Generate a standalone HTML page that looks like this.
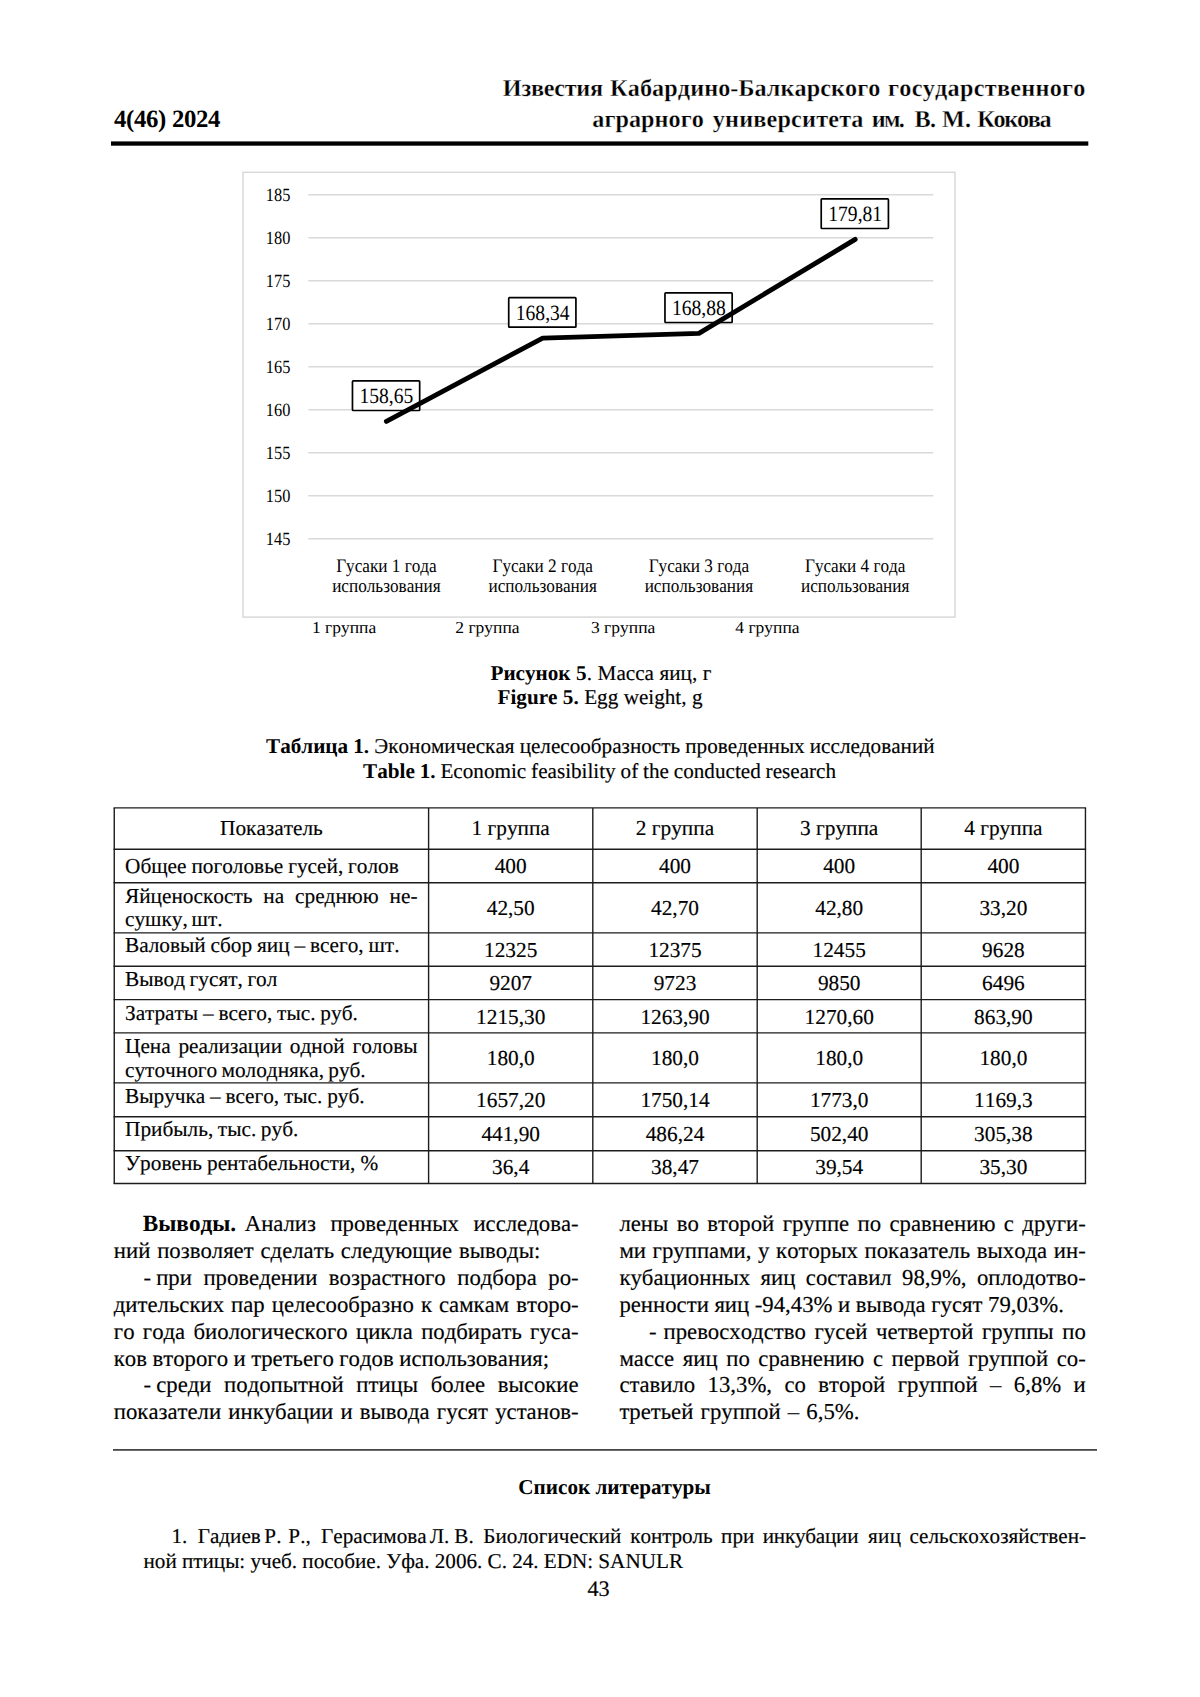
<!DOCTYPE html>
<html lang="ru"><head><meta charset="utf-8"><title>Известия КБГАУ 4(46) 2024 — стр. 43</title>
<style>
html,body{margin:0;padding:0;background:#fff}
body{width:1200px;height:1697px;position:relative;overflow:hidden;font-family:"Liberation Serif",serif;color:#000;font-kerning:none;font-variant-ligatures:none;text-rendering:geometricPrecision}
.t{position:absolute;white-space:pre;line-height:normal;margin:0;padding:0;-webkit-text-stroke:0.16px #000}
.c{transform:translateX(-50%)}
b{font-weight:bold;-webkit-text-stroke:0}
.d{display:inline-block;width:12.8px}
.d2{display:inline-block;width:14.4px}
svg{position:absolute;left:0;top:0}
svg text{font-family:"Liberation Serif",serif;fill:#000;font-kerning:none}
</style></head><body>
<svg width="1200" height="1697" viewBox="0 0 1200 1697">
<rect x="111" y="141.4" width="977.3" height="4.3" fill="#000"/>
<rect x="243" y="172.3" width="712" height="444.8" fill="none" stroke="#d9d9d9" stroke-width="1.5"/>
<g stroke="#d9d9d9" stroke-width="1.4">
<line x1="308.3" y1="194.8" x2="933.3" y2="194.8"/>
<line x1="308.3" y1="237.8" x2="933.3" y2="237.8"/>
<line x1="308.3" y1="280.8" x2="933.3" y2="280.8"/>
<line x1="308.3" y1="323.8" x2="933.3" y2="323.8"/>
<line x1="308.3" y1="366.8" x2="933.3" y2="366.8"/>
<line x1="308.3" y1="409.8" x2="933.3" y2="409.8"/>
<line x1="308.3" y1="452.8" x2="933.3" y2="452.8"/>
<line x1="308.3" y1="495.8" x2="933.3" y2="495.8"/>
<line x1="308.3" y1="538.8" x2="933.3" y2="538.8"/>
</g>
<text transform="translate(290.4,201.0) scale(0.875,1)" font-size="18.7" text-anchor="end">185</text>
<text transform="translate(290.4,244.0) scale(0.875,1)" font-size="18.7" text-anchor="end">180</text>
<text transform="translate(290.4,287.0) scale(0.875,1)" font-size="18.7" text-anchor="end">175</text>
<text transform="translate(290.4,330.0) scale(0.875,1)" font-size="18.7" text-anchor="end">170</text>
<text transform="translate(290.4,373.0) scale(0.875,1)" font-size="18.7" text-anchor="end">165</text>
<text transform="translate(290.4,416.0) scale(0.875,1)" font-size="18.7" text-anchor="end">160</text>
<text transform="translate(290.4,459.0) scale(0.875,1)" font-size="18.7" text-anchor="end">155</text>
<text transform="translate(290.4,502.0) scale(0.875,1)" font-size="18.7" text-anchor="end">150</text>
<text transform="translate(290.4,545.0) scale(0.875,1)" font-size="18.7" text-anchor="end">145</text>
<rect x="352.47" y="380.9" width="67.2" height="29.6" rx="0.8" fill="#fff" stroke="#000" stroke-width="1.7"/>
<text transform="translate(386.4,403.1) scale(0.897,1)" font-size="21.8" text-anchor="middle">158,65</text>
<rect x="508.72" y="297.6" width="67.2" height="29.6" rx="0.8" fill="#fff" stroke="#000" stroke-width="1.7"/>
<text transform="translate(542.7,319.8) scale(0.897,1)" font-size="21.8" text-anchor="middle">168,34</text>
<rect x="664.97" y="292.9" width="67.2" height="29.6" rx="0.8" fill="#fff" stroke="#000" stroke-width="1.7"/>
<text transform="translate(698.9,315.1) scale(0.897,1)" font-size="21.8" text-anchor="middle">168,88</text>
<rect x="821.22" y="198.9" width="67.2" height="29.6" rx="0.8" fill="#fff" stroke="#000" stroke-width="1.7"/>
<text transform="translate(855.2,221.1) scale(0.897,1)" font-size="21.8" text-anchor="middle">179,81</text>
<polyline points="386.4,421.4 542.7,338.1 698.9,333.4 855.2,239.4" fill="none" stroke="#000" stroke-width="4.9" stroke-linecap="round" stroke-linejoin="round"/>
<text transform="translate(386.4,571.6) scale(0.9,1)" font-size="19.1" text-anchor="middle">Гусаки 1 года</text>
<text transform="translate(386.4,591.5) scale(0.9,1)" font-size="19.1" text-anchor="middle">использования</text>
<text transform="translate(542.7,571.6) scale(0.9,1)" font-size="19.1" text-anchor="middle">Гусаки 2 года</text>
<text transform="translate(542.7,591.5) scale(0.9,1)" font-size="19.1" text-anchor="middle">использования</text>
<text transform="translate(698.9,571.6) scale(0.9,1)" font-size="19.1" text-anchor="middle">Гусаки 3 года</text>
<text transform="translate(698.9,591.5) scale(0.9,1)" font-size="19.1" text-anchor="middle">использования</text>
<text transform="translate(855.2,571.6) scale(0.9,1)" font-size="19.1" text-anchor="middle">Гусаки 4 года</text>
<text transform="translate(855.2,591.5) scale(0.9,1)" font-size="19.1" text-anchor="middle">использования</text>
<text transform="translate(311.9,633.1) scale(1.042,1)" font-size="16.8" text-anchor="start">1 группа</text>
<text transform="translate(455.3,633.1) scale(1.042,1)" font-size="16.8" text-anchor="start">2 группа</text>
<text transform="translate(591.0,633.1) scale(1.042,1)" font-size="16.8" text-anchor="start">3 группа</text>
<text transform="translate(735.3,633.1) scale(1.042,1)" font-size="16.8" text-anchor="start">4 группа</text>
<g stroke="#1c1c1c" stroke-width="1.4">
<line x1="113.55" y1="807.9" x2="1086.15" y2="807.9"/>
<line x1="113.55" y1="849.2" x2="1086.15" y2="849.2"/>
<line x1="113.55" y1="882.7" x2="1086.15" y2="882.7"/>
<line x1="113.55" y1="932.9" x2="1086.15" y2="932.9"/>
<line x1="113.55" y1="966.2" x2="1086.15" y2="966.2"/>
<line x1="113.55" y1="999.6" x2="1086.15" y2="999.6"/>
<line x1="113.55" y1="1032.9" x2="1086.15" y2="1032.9"/>
<line x1="113.55" y1="1082.9" x2="1086.15" y2="1082.9"/>
<line x1="113.55" y1="1116.7" x2="1086.15" y2="1116.7"/>
<line x1="113.55" y1="1150.7" x2="1086.15" y2="1150.7"/>
<line x1="113.55" y1="1183.5" x2="1086.15" y2="1183.5"/>
<line x1="114.25" y1="807.9" x2="114.25" y2="1183.5"/>
<line x1="428.6" y1="807.9" x2="428.6" y2="1183.5"/>
<line x1="592.8" y1="807.9" x2="592.8" y2="1183.5"/>
<line x1="757.2" y1="807.9" x2="757.2" y2="1183.5"/>
<line x1="921.2" y1="807.9" x2="921.2" y2="1183.5"/>
<line x1="1085.45" y1="807.9" x2="1085.45" y2="1183.5"/>
</g>
<rect x="113" y="1449.2" width="984" height="1.45" fill="#1c1c1c"/>
</svg>
<div class="t" id="t0" style="left:114.00px;top:106.21px;font-size:24.8px;font-weight:bold;-webkit-text-stroke:0;letter-spacing:-0.332px;">4(46) 2024</div>
<div class="t" id="t1" style="left:502.84px;top:74.60px;font-size:24.19px;font-weight:bold;-webkit-text-stroke:0.3px #fff;"><span style="letter-spacing:-0.240px">Известия</span><span style="word-spacing:1.14px"> </span><span style="letter-spacing:0.090px">Кабардино-Балкарского</span><span style="word-spacing:1.55px"> </span><span style="letter-spacing:0.276px">государственного</span></div>
<div class="t" id="t2" style="left:592.22px;top:106.30px;font-size:24.19px;font-weight:bold;-webkit-text-stroke:0.3px #fff;"><span style="letter-spacing:0.063px">аграрного</span><span style="word-spacing:2.73px"> </span><span style="letter-spacing:0.192px">университета</span><span style="word-spacing:2.26px"> </span><span style="letter-spacing:-1.756px">им.</span><span style="word-spacing:5.49px"> </span><span style="letter-spacing:-0.717px">В.</span><span style="word-spacing:0.69px"> </span><span style="letter-spacing:0.097px">М.</span><span style="word-spacing:-0.12px"> </span><span style="letter-spacing:-1.259px">Кокова</span></div>
<div class="t c" id="t3" style="left:601.00px;top:661.01px;font-size:21.17px;word-spacing:0.305px;"><b>Рисунок 5</b>. Масса яиц, г</div>
<div class="t c" id="t4" style="left:600.00px;top:685.01px;font-size:21.17px;word-spacing:0.125px;"><b>Figure 5.</b> Egg weight, g</div>
<div class="t c" id="t5" style="left:600.30px;top:734.30px;font-size:21.17px;word-spacing:-0.169px;"><b>Таблица 1.</b> Экономическая целесообразность проведенных исследований</div>
<div class="t c" id="t6" style="left:599.60px;top:759.21px;font-size:21.17px;word-spacing:-0.411px;"><b>Table 1.</b> Economic feasibility of the conducted research</div>
<div class="t c" id="t7" style="left:271.43px;top:816.20px;font-size:21.3px;">Показатель</div>
<div class="t c" id="t8" style="left:510.70px;top:816.20px;font-size:21.3px;">1 группа</div>
<div class="t c" id="t9" style="left:675.00px;top:816.20px;font-size:21.3px;">2 группа</div>
<div class="t c" id="t10" style="left:839.20px;top:816.20px;font-size:21.3px;">3 группа</div>
<div class="t c" id="t11" style="left:1003.40px;top:816.20px;font-size:21.3px;">4 группа</div>
<div class="t" id="t12" style="left:125.00px;top:853.92px;font-size:21.3px;word-spacing:-0.452px;">Общее поголовье гусей, голов</div>
<div class="t" id="t13" style="left:125.00px;top:884.11px;font-size:21.3px;word-spacing:5.568px;">Яйценоскость на среднюю не-</div>
<div class="t" id="t14" style="left:125.00px;top:907.31px;font-size:21.3px;word-spacing:-1.588px;">сушку, шт.</div>
<div class="t" id="t15" style="left:125.00px;top:933.31px;font-size:21.3px;word-spacing:-0.469px;">Валовый сбор яиц – всего, шт.</div>
<div class="t" id="t16" style="left:125.00px;top:967.11px;font-size:21.3px;word-spacing:-0.792px;">Вывод гусят, гол</div>
<div class="t" id="t17" style="left:125.00px;top:1000.81px;font-size:21.3px;word-spacing:-0.452px;">Затраты – всего, тыс. руб.</div>
<div class="t" id="t18" style="left:125.00px;top:1034.11px;font-size:21.3px;word-spacing:2.417px;">Цена реализации одной головы</div>
<div class="t" id="t19" style="left:125.00px;top:1057.70px;font-size:21.3px;word-spacing:-1.080px;">суточного молодняка, руб.</div>
<div class="t" id="t20" style="left:125.00px;top:1083.70px;font-size:21.3px;word-spacing:-0.549px;">Выручка – всего, тыс. руб.</div>
<div class="t" id="t21" style="left:125.00px;top:1117.42px;font-size:21.3px;word-spacing:-0.717px;">Прибыль, тыс. руб.</div>
<div class="t" id="t22" style="left:125.00px;top:1151.20px;font-size:21.3px;word-spacing:-0.298px;">Уровень рентабельности, %</div>
<div class="t c" id="t23" style="left:510.70px;top:853.81px;font-size:21.3px;">400</div>
<div class="t c" id="t24" style="left:675.00px;top:853.81px;font-size:21.3px;">400</div>
<div class="t c" id="t25" style="left:839.20px;top:853.81px;font-size:21.3px;">400</div>
<div class="t c" id="t26" style="left:1003.40px;top:853.81px;font-size:21.3px;">400</div>
<div class="t c" id="t27" style="left:510.70px;top:896.20px;font-size:21.3px;">42,50</div>
<div class="t c" id="t28" style="left:675.00px;top:896.20px;font-size:21.3px;">42,70</div>
<div class="t c" id="t29" style="left:839.20px;top:896.20px;font-size:21.3px;">42,80</div>
<div class="t c" id="t30" style="left:1003.40px;top:896.20px;font-size:21.3px;">33,20</div>
<div class="t c" id="t31" style="left:510.70px;top:937.61px;font-size:21.3px;">12325</div>
<div class="t c" id="t32" style="left:675.00px;top:937.61px;font-size:21.3px;">12375</div>
<div class="t c" id="t33" style="left:839.20px;top:937.61px;font-size:21.3px;">12455</div>
<div class="t c" id="t34" style="left:1003.40px;top:937.61px;font-size:21.3px;">9628</div>
<div class="t c" id="t35" style="left:510.70px;top:970.70px;font-size:21.3px;">9207</div>
<div class="t c" id="t36" style="left:675.00px;top:970.70px;font-size:21.3px;">9723</div>
<div class="t c" id="t37" style="left:839.20px;top:970.70px;font-size:21.3px;">9850</div>
<div class="t c" id="t38" style="left:1003.40px;top:970.70px;font-size:21.3px;">6496</div>
<div class="t c" id="t39" style="left:510.70px;top:1004.70px;font-size:21.3px;">1215,30</div>
<div class="t c" id="t40" style="left:675.00px;top:1004.70px;font-size:21.3px;">1263,90</div>
<div class="t c" id="t41" style="left:839.20px;top:1004.70px;font-size:21.3px;">1270,60</div>
<div class="t c" id="t42" style="left:1003.40px;top:1004.70px;font-size:21.3px;">863,90</div>
<div class="t c" id="t43" style="left:510.70px;top:1046.20px;font-size:21.3px;">180,0</div>
<div class="t c" id="t44" style="left:675.00px;top:1046.20px;font-size:21.3px;">180,0</div>
<div class="t c" id="t45" style="left:839.20px;top:1046.20px;font-size:21.3px;">180,0</div>
<div class="t c" id="t46" style="left:1003.40px;top:1046.20px;font-size:21.3px;">180,0</div>
<div class="t c" id="t47" style="left:510.70px;top:1088.20px;font-size:21.3px;">1657,20</div>
<div class="t c" id="t48" style="left:675.00px;top:1088.20px;font-size:21.3px;">1750,14</div>
<div class="t c" id="t49" style="left:839.20px;top:1088.20px;font-size:21.3px;">1773,0</div>
<div class="t c" id="t50" style="left:1003.40px;top:1088.20px;font-size:21.3px;">1169,3</div>
<div class="t c" id="t51" style="left:510.70px;top:1122.11px;font-size:21.3px;">441,90</div>
<div class="t c" id="t52" style="left:675.00px;top:1122.11px;font-size:21.3px;">486,24</div>
<div class="t c" id="t53" style="left:839.20px;top:1122.11px;font-size:21.3px;">502,40</div>
<div class="t c" id="t54" style="left:1003.40px;top:1122.11px;font-size:21.3px;">305,38</div>
<div class="t c" id="t55" style="left:510.70px;top:1155.11px;font-size:21.3px;">36,4</div>
<div class="t c" id="t56" style="left:675.00px;top:1155.11px;font-size:21.3px;">38,47</div>
<div class="t c" id="t57" style="left:839.20px;top:1155.11px;font-size:21.3px;">39,54</div>
<div class="t c" id="t58" style="left:1003.40px;top:1155.11px;font-size:21.3px;">35,30</div>
<div class="t" id="t59" style="left:142.80px;top:1211.10px;font-size:22.75px;word-spacing:8.822px;"><b style="word-spacing:2.8px;font-size:23.2px">Выводы.&nbsp;</b>Анализ проведенных исследова-</div>
<div class="t" id="t60" style="left:113.80px;top:1237.98px;font-size:22.75px;word-spacing:1.141px;">ний позволяет сделать следующие выводы:</div>
<div class="t" id="t61" style="left:143.40px;top:1264.88px;font-size:22.75px;word-spacing:5.804px;"><span class="d">-</span>при проведении возрастного подбора ро-</div>
<div class="t" id="t62" style="left:113.80px;top:1291.76px;font-size:22.75px;word-spacing:1.351px;">дительских пар целесообразно к самкам второ-</div>
<div class="t" id="t63" style="left:113.80px;top:1318.66px;font-size:22.75px;word-spacing:2.629px;">го года биологического цикла подбирать гуса-</div>
<div class="t" id="t64" style="left:113.80px;top:1345.54px;font-size:22.75px;word-spacing:-0.165px;">ков второго и третьего годов использования;</div>
<div class="t" id="t65" style="left:143.40px;top:1372.42px;font-size:22.75px;word-spacing:6.905px;"><span class="d">-</span>среди подопытной птицы более высокие</div>
<div class="t" id="t66" style="left:113.80px;top:1399.32px;font-size:22.75px;word-spacing:1.488px;">показатели инкубации и вывода гусят установ-</div>
<div class="t" id="t67" style="left:619.40px;top:1211.10px;font-size:22.75px;word-spacing:2.722px;">лены во второй группе по сравнению с други-</div>
<div class="t" id="t68" style="left:619.40px;top:1237.98px;font-size:22.75px;word-spacing:0.970px;">ми группами, у которых показатель выхода ин-</div>
<div class="t" id="t69" style="left:619.40px;top:1264.88px;font-size:22.75px;word-spacing:4.702px;">кубационных яиц составил 98,9%, оплодотво-</div>
<div class="t" id="t70" style="left:619.40px;top:1291.76px;font-size:22.75px;word-spacing:-0.099px;">ренности яиц -94,43% и вывода гусят 79,03%.</div>
<div class="t" id="t71" style="left:649.10px;top:1318.66px;font-size:22.75px;word-spacing:2.921px;"><span class="d2">-</span>превосходство гусей четвертой группы по</div>
<div class="t" id="t72" style="left:619.40px;top:1345.54px;font-size:22.75px;word-spacing:2.919px;">массе яиц по сравнению с первой группой со-</div>
<div class="t" id="t73" style="left:619.40px;top:1372.42px;font-size:22.75px;word-spacing:6.711px;">ставило 13,3%, со второй группой – 6,8% и</div>
<div class="t" id="t74" style="left:619.40px;top:1399.32px;font-size:22.75px;word-spacing:1.500px;">третьей группой – 6,5%.</div>
<div class="t c" id="t75" style="left:614.60px;top:1475.21px;font-size:21.17px;font-weight:bold;-webkit-text-stroke:0;word-spacing:-0.047px;">Список литературы</div>
<div class="t" id="t76" style="left:171.44px;top:1524.30px;font-size:21.17px;">1.<span style="word-spacing:5.08px"> </span>Гадиев<span style="word-spacing:-1.72px"> </span>Р.<span style="word-spacing:1.64px"> </span>Р.,<span style="word-spacing:5.05px"> </span>Герасимова<span style="word-spacing:-2.29px"> </span>Л.<span style="word-spacing:-0.36px"> </span>В.<span style="word-spacing:4.29px"> </span><span style="letter-spacing:0.041px">Биологический</span><span style="word-spacing:3.49px"> </span><span style="letter-spacing:-0.031px">контроль</span><span style="word-spacing:3.12px"> </span>при<span style="word-spacing:3.06px"> </span><span style="letter-spacing:-0.226px">инкубации</span><span style="word-spacing:4.37px"> </span><span style="letter-spacing:0.421px">яиц</span><span style="word-spacing:2.70px"> </span><span style="letter-spacing:0.016px">сельскохозяйствен-</span></div>
<div class="t" id="t77" style="left:143.50px;top:1548.51px;font-size:21.17px;word-spacing:-0.082px;">ной птицы: учеб. пособие. Уфа. 2006. С. 24. EDN: SANULR</div>
<div class="t c" id="t78" style="left:598.60px;top:1575.50px;font-size:22.2px;">43</div>
</body></html>
